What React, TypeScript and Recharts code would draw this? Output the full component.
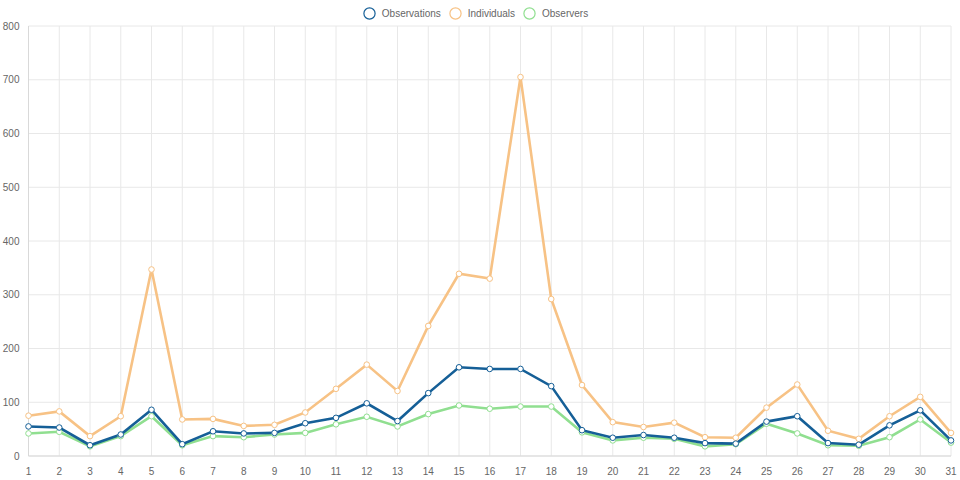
import React from "react";
import { LineChart, Line, XAxis, YAxis, CartesianGrid, Legend } from "recharts";

const days: string[] = [
  "1","2","3","4","5","6","7","8","9","10","11","12","13","14","15","16",
  "17","18","19","20","21","22","23","24","25","26","27","28","29","30","31",
];

const observations: number[] = [
  55, 53, 20, 40, 86, 22, 46, 42, 43, 61, 71, 98, 65, 117, 165, 162,
  162, 130, 48, 34, 39, 34, 24, 23, 64, 74, 24, 21, 57, 85, 29,
];

const individuals: number[] = [
  75, 83, 37, 74, 347, 68, 69, 56, 58, 81, 125, 170, 121, 242, 339, 330,
  705, 292, 132, 63, 54, 62, 35, 34, 90, 133, 47, 32, 74, 110, 43,
];

const observers: number[] = [
  42, 45, 18, 37, 74, 20, 37, 35, 40, 43, 59, 73, 55, 78, 94, 88,
  92, 92, 44, 29, 34, 32, 18, 22, 60, 42, 20, 19, 35, 68, 25,
];

const yTicks: number[] = [0, 100, 200, 300, 400, 500, 600, 700, 800];

const series = [
  { key: "Observations", color: "#155f97" },
  { key: "Individuals", color: "#f7c285" },
  { key: "Observers", color: "#90df90" },
];

const data = days.map((d, i) => ({
  day: d,
  Observations: observations[i],
  Individuals: individuals[i],
  Observers: observers[i],
}));

const FONT = "'Liberation Sans', Arial, Helvetica, sans-serif";

const LegendContent = () => (
  <div
    style={{
      display: "flex",
      justifyContent: "center",
      alignItems: "center",
      height: 20,
      position: "relative",
      top: -3,
      fontFamily: FONT,
      fontSize: 10,
      color: "#666",
    }}
  >
    {series.map((s) => (
      <div key={s.key} style={{ display: "flex", alignItems: "center", margin: "0 4px" }}>
        <svg width={13} height={13} style={{ marginRight: 6 }}>
          <circle cx={6.5} cy={6.5} r={5.6} fill="none" stroke={s.color} strokeWidth={1.2} />
        </svg>
        <span>{s.key}</span>
      </div>
    ))}
  </div>
);

export default function App() {
  const drawOrder = [...series].reverse();
  return (
    <div style={{ position: "absolute", left: 0, top: 0, width: 960, height: 480, background: "#fff" }}>
      <LineChart
        width={960}
        height={480}
        data={data}
        margin={{ top: 6, right: 9, left: 0, bottom: 0 }}
      >
        <Legend verticalAlign="top" align="center" height={20} content={<LegendContent />} />
        <CartesianGrid stroke="#e8e8e8" strokeWidth={1} />
        <XAxis
          dataKey="day"
          interval={0}
          tickLine={false}
          tickSize={12}
          tickMargin={0}
          height={24}
          stroke="#d9d9d9"
          tick={{ fill: "#666", fontSize: 10, fontFamily: FONT }}
        />
        <YAxis
          domain={[0, 800]}
          ticks={yTicks}
          interval={0}
          width={28.5}
          tickLine={false}
          tickSize={8}
          tickMargin={1}
          stroke="#d9d9d9"
          tick={{ fill: "#666", fontSize: 10, fontFamily: FONT }}
        />
        {drawOrder.map((s) => (
          <Line
            key={s.key}
            type="linear"
            dataKey={s.key}
            stroke={s.color}
            strokeWidth={2.6}
            dot={{ r: 2.8, fill: "#fff", stroke: s.color, strokeWidth: 1 }}
            activeDot={false}
            isAnimationActive={false}
          />
        ))}
      </LineChart>
    </div>
  );
}
